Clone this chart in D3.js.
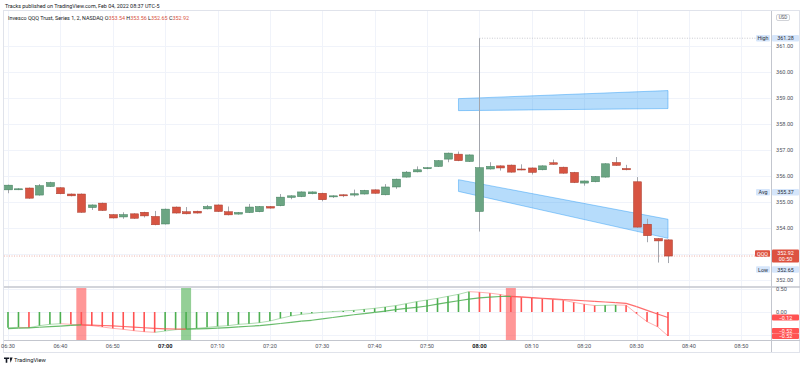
<!DOCTYPE html>
<html>
<head>
<meta charset="utf-8">
<script src="https://cdn.jsdelivr.net/npm/d3@7"></script>
<style>
  body { margin: 0; background: #fff; }
  svg { display: block; font-family: Roboto, "Liberation Sans", sans-serif; }
</style>
</head>
<body>
<div id="chart"></div>
<script>
// 2-minute bars, QQQ
var times = ["06:30","06:32","06:34","06:36","06:38","06:40","06:42","06:44","06:46","06:48",
  "06:50","06:52","06:54","06:56","06:58","07:00","07:02","07:04","07:06","07:08",
  "07:10","07:12","07:14","07:16","07:18","07:20","07:22","07:24","07:26","07:28",
  "07:30","07:32","07:34","07:36","07:38","07:40","07:42","07:44","07:46","07:48",
  "07:50","07:52","07:54","07:56","07:58","08:00","08:02","08:04","08:06","08:08",
  "08:10","08:12","08:14","08:16","08:18","08:20","08:22","08:24","08:26","08:28",
  "08:30","08:32","08:34","08:36"];

var open = [355.46,355.47,355.53,355.26,355.59,355.54,355.30,355.30,354.78,354.95,
  354.51,354.42,354.54,354.60,354.44,354.15,354.80,354.62,354.64,354.73,
  354.88,354.62,354.53,354.59,354.62,354.82,354.85,355.17,355.20,355.31,
  355.33,355.19,355.27,355.26,355.30,355.46,355.27,355.57,355.95,356.15,
  356.27,356.36,356.64,356.83,356.55,354.63,356.26,356.38,356.41,356.26,
  356.30,356.23,356.50,356.33,356.13,355.72,355.77,355.95,356.51,356.28,
  355.77,354.14,353.59,353.54];
var high = [355.66,355.52,355.55,355.68,355.77,355.56,355.32,355.32,354.90,354.97,
  354.53,354.60,354.56,354.62,354.65,354.74,354.82,354.80,354.66,354.88,
  354.90,354.82,354.61,354.92,354.84,354.84,355.30,355.25,355.40,355.40,
  355.35,355.25,355.29,355.47,355.46,355.48,355.68,355.89,356.18,356.36,
  356.33,356.60,356.89,356.93,356.82,361.28,356.52,356.40,356.43,356.44,
  356.32,356.40,356.62,356.35,356.15,355.82,355.99,356.48,356.72,356.42,
  355.95,354.35,353.61,353.56];
var low = [355.33,355.45,355.12,355.24,355.57,355.29,355.21,354.58,354.69,354.65,
  354.36,354.35,354.35,354.40,354.10,354.13,354.55,354.52,354.55,354.71,
  354.61,354.48,354.51,354.57,354.60,354.74,354.83,355.10,355.18,355.29,
  355.02,355.15,355.18,355.20,355.28,355.31,355.25,355.50,355.93,356.13,
  356.25,356.34,356.52,356.56,356.53,353.86,356.24,356.20,356.12,356.21,
  356.05,356.21,356.42,356.08,355.72,355.62,355.75,355.93,356.38,356.21,
  354.01,353.45,352.67,352.65];
var close = [355.64,355.50,355.14,355.62,355.74,355.31,355.23,354.60,354.88,354.67,
  354.38,354.51,354.37,354.46,354.12,354.72,354.57,354.54,354.57,354.82,
  354.63,354.50,354.59,354.80,354.82,354.76,355.18,355.23,355.38,355.38,
  355.08,355.23,355.23,355.31,355.44,355.33,355.57,355.87,356.14,356.23,
  356.31,356.58,356.87,356.58,356.80,356.31,356.36,356.30,356.14,356.23,
  356.13,356.38,356.44,356.10,355.74,355.80,355.97,356.46,356.40,356.23,
  354.03,353.70,353.50,352.92];

// oscillator pane: fast line (histogram follows it) and slow line
var fast = [-0.341,-0.334,-0.341,-0.297,-0.268,-0.254,-0.268,-0.283,-0.297,-0.326,
  -0.355,-0.377,-0.406,-0.428,-0.442,-0.413,-0.384,-0.370,-0.355,-0.334,
  -0.312,-0.297,-0.268,-0.254,-0.232,-0.196,-0.138,-0.087,-0.051,-0.029,
  -0.007,0.007,0.022,0.036,0.058,0.080,0.109,0.138,0.181,0.225,
  0.261,0.297,0.341,0.384,0.442,0.430,0.410,0.380,0.335,0.320,
  0.305,0.290,0.275,0.255,0.210,0.170,0.140,0.145,0.152,0.148,
  -0.036,-0.210,-0.320,-0.520];
var slow = [-0.360,-0.352,-0.344,-0.332,-0.318,-0.305,-0.292,-0.282,-0.285,-0.293,
  -0.303,-0.315,-0.328,-0.342,-0.356,-0.365,-0.370,-0.372,-0.368,-0.360,
  -0.350,-0.338,-0.325,-0.310,-0.295,-0.275,-0.250,-0.225,-0.200,-0.180,
  -0.150,-0.120,-0.090,-0.060,-0.035,-0.010,0.020,0.050,0.080,0.100,
  0.130,0.170,0.210,0.245,0.280,0.305,0.325,0.337,0.341,0.327,
  0.313,0.299,0.285,0.272,0.258,0.244,0.230,0.217,0.203,0.188,
  0.116,0.036,-0.043,-0.120];

// cross signals
var signalTimes = ["06:44","07:04","08:06"];
var signalSide = ["sell","buy","sell"];

// two drawn channels (start / end)
var channelTimes = ["07:56","08:36"];
var upperTop = [358.96,359.27], upperBottom = [358.50,358.58];
var lowerTop = [355.85,354.33], lowerBottom = [355.40,353.60];

var priceTicks = [352,353,354,355,356,357,358,359,360,361];
var oscGrid = [0.5,0,-0.5];
var oscLabels = [0.5,0];
var timeTicks = ["06:30","06:40","06:50","07:00","07:10","07:20","07:30","07:40",
  "07:50","08:00","08:10","08:20","08:30","08:40","08:50"];

var statHigh = 361.28, statAvg = 355.37, statLow = 352.65, lastClose = 352.92;

var green = "#6ba583", red = "#d75442";
var oscUp = "#4caf50", oscDn = "#ff5252";
var axisX = 771.5, paneSplit = 287, timeAxisY = 340.5;

var parseT = d3.utcParse("%H:%M");
var data = times.map(function(t, i){
  return {t: parseT(t), o: open[i], h: high[i], l: low[i], c: close[i], f: fast[i], s: slow[i]};
});

var x = d3.scaleUtc().domain([parseT("06:30"), parseT("08:36")]).range([8, 668]);
var y = d3.scaleLinear().domain([352, 361]).range([280, 45.5]);
var yo = d3.scaleLinear().domain([-0.5, 0.5]).range([335, 289]);
var fmt = d3.format(".2f");

var svg = d3.select("#chart").append("svg").attr("width", 800).attr("height", 368);

// header
svg.append("text").attr("x", 5).attr("y", 7.5).style("font-size", "5.4px").style("fill", "#131722")
  .text("Tracks published on TradingView.com, Feb 04, 2022 08:37 UTC-5");

// frame
svg.append("rect").attr("x", 3.5).attr("y", 10.5).attr("width", 796).attr("height", 342)
  .style("fill", "none").style("stroke", "#e0e3eb");

// grid
svg.selectAll(".vgrid").data(timeTicks).enter().append("line")
  .attr("x1", function(d){ return Math.round(x(parseT(d))) + 0.5; })
  .attr("x2", function(d){ return Math.round(x(parseT(d))) + 0.5; })
  .attr("y1", 11).attr("y2", timeAxisY)
  .style("stroke", "#f0f3fa");
svg.selectAll(".hgrid").data(priceTicks).enter().append("line")
  .attr("x1", 4).attr("x2", axisX)
  .attr("y1", function(d){ return Math.round(y(d)) + 0.5; })
  .attr("y2", function(d){ return Math.round(y(d)) + 0.5; })
  .style("stroke", "#f0f3fa");
svg.selectAll(".ogrid").data(oscGrid).enter().append("line")
  .attr("x1", 4).attr("x2", axisX)
  .attr("y1", function(d){ return Math.round(yo(d)) + 0.5; })
  .attr("y2", function(d){ return Math.round(yo(d)) + 0.5; })
  .style("stroke", "#f0f3fa");

// legend
var leg = svg.append("text").attr("x", 8).attr("y", 19.5).style("font-size", "5.4px").style("fill", "#131722");
leg.append("tspan").text("Invesco QQQ Trust, Series 1, 2, NASDAQ ");
[["O", open[63]], ["H", high[63]], ["L", low[63]], ["C", close[63]]].forEach(function(p){
  leg.append("tspan").text(" " + p[0]).style("fill", "#131722");
  leg.append("tspan").text(fmt(p[1])).style("fill", red);
});

// channels
function channel(top, bot){
  var t0 = x(parseT(channelTimes[0])), t1 = x(parseT(channelTimes[1]));
  var pts = [[t0, y(top[0])], [t1, y(top[1])], [t1, y(bot[1])], [t0, y(bot[0])]];
  svg.append("path").attr("d", "M" + pts.join("L") + "Z")
    .style("fill", "rgba(33,150,243,0.33)").style("stroke", "rgba(33,150,243,0.55)").style("stroke-width", 0.8);
}
channel(upperTop, upperBottom);
channel(lowerTop, lowerBottom);

// price line and stat lines
svg.append("line").attr("x1", 4).attr("x2", axisX).attr("y1", y(lastClose)).attr("y2", y(lastClose))
  .style("stroke", red).style("stroke-opacity", 0.45).style("stroke-dasharray", "1,1.5");
svg.append("line").attr("x1", x(parseT("08:00"))).attr("x2", 756).attr("y1", y(statHigh)).attr("y2", y(statHigh))
  .style("stroke", "#c8cad0").style("stroke-dasharray", "1,1.5");

// candles
var candle = svg.selectAll(".candle").data(data).enter().append("g");
candle.append("line")
  .attr("x1", function(d){ return Math.round(x(d.t)) + 0.5; })
  .attr("x2", function(d){ return Math.round(x(d.t)) + 0.5; })
  .attr("y1", function(d){ return y(d.h); })
  .attr("y2", function(d){ return y(d.l); })
  .style("stroke", "#a3a6ad").style("stroke-width", 1);
candle.append("rect")
  .attr("x", function(d){ return Math.round(x(d.t)) - 3.5; })
  .attr("width", 8)
  .attr("y", function(d){ return y(Math.max(d.o, d.c)); })
  .attr("height", function(d){ return Math.max(1, Math.abs(y(d.o) - y(d.c))); })
  .style("fill", function(d){ return d.c >= d.o ? green : red; })
  .style("stroke", function(d){ return d.c >= d.o ? "#3f7d5a" : "#a83a2b"; })
  .style("stroke-width", 0.5);

// oscillator: signal bands
svg.selectAll(".band").data(signalTimes).enter().append("rect")
  .attr("x", function(d){ return x(parseT(d)) - 5; })
  .attr("width", 10)
  .attr("y", paneSplit + 1).attr("height", timeAxisY - paneSplit - 1.5)
  .style("fill", function(d, i){ return signalSide[i] == "buy" ? "rgba(76,175,80,0.6)" : "rgba(255,82,82,0.6)"; });

// histogram
svg.selectAll(".hist").data(data).enter().append("line")
  .attr("x1", function(d){ return x(d.t); })
  .attr("x2", function(d){ return x(d.t); })
  .attr("y1", yo(0))
  .attr("y2", function(d){ return yo(d.f); })
  .style("stroke", function(d, i){ return (i == 0 || d.f >= data[i-1].f) ? oscUp : oscDn; })
  .style("stroke-width", 1.6);

// lines, coloured by slope
function segLine(key, width, opacity){
  var segs = d3.pairs(data);
  svg.selectAll(".seg-" + key).data(segs).enter().append("line")
    .attr("x1", function(p){ return x(p[0].t); })
    .attr("x2", function(p){ return x(p[1].t); })
    .attr("y1", function(p){ return yo(p[0][key]); })
    .attr("y2", function(p){ return yo(p[1][key]); })
    .style("stroke", function(p){ return p[1][key] >= p[0][key] ? oscUp : oscDn; })
    .style("stroke-opacity", opacity)
    .style("stroke-width", width);
}
segLine("f", 1, 0.45);
segLine("s", 1.2, 0.85);

// pane separators
svg.append("line").attr("x1", 4).attr("x2", 800).attr("y1", paneSplit).attr("y2", paneSplit)
  .style("stroke", "#c3c6ce").style("stroke-width", 1.6);
svg.append("line").attr("x1", 4).attr("x2", 800).attr("y1", timeAxisY).attr("y2", timeAxisY)
  .style("stroke", "#c3c6ce");
svg.append("line").attr("x1", axisX).attr("x2", axisX).attr("y1", 11).attr("y2", 352)
  .style("stroke", "#c3c6ce");

// price axis labels
svg.selectAll(".plab").data(priceTicks).enter().append("text")
  .attr("x", 776).attr("y", function(d){ return y(d) + 2; })
  .style("font-size", "5.6px").style("fill", "#50535e")
  .text(function(d){ return fmt(d); });
svg.selectAll(".olab").data(oscLabels).enter().append("text")
  .attr("x", 776).attr("y", function(d){ return yo(d) + 2; })
  .style("font-size", "5.6px").style("fill", "#50535e")
  .text(function(d){ return fmt(d); });

// USD badge
svg.append("rect").attr("x", 776.5).attr("y", 14.5).attr("width", 13).attr("height", 6).attr("rx", 1.5)
  .style("fill", "#fff").style("stroke", "#b2b5be").style("stroke-width", 0.6);
svg.append("text").attr("x", 783).attr("y", 19.2).attr("text-anchor", "middle")
  .style("font-size", "4.6px").style("fill", "#50535e").text("USD");

function tag(x0, w, yc, h, txt, bg, fg){
  svg.append("rect").attr("x", x0).attr("y", yc - h / 2).attr("width", w).attr("height", h)
    .attr("rx", 1).style("fill", bg);
  svg.append("text").attr("x", x0 + w / 2).attr("y", yc + 2).attr("text-anchor", "middle")
    .style("font-size", "5.4px").style("fill", fg).text(txt);
}
var statBg = "#d6e6fb", statFg = "#2a2e39";
tag(756, 14, y(statHigh), 6.5, "High", statBg, statFg);
tag(772, 27, y(statHigh), 6.5, fmt(statHigh), statBg, statFg);
tag(756, 14, y(statAvg), 6.5, "Avg", statBg, statFg);
tag(772, 27, y(statAvg), 6.5, fmt(statAvg), statBg, statFg);
tag(756, 14, 269.5, 6.5, "Low", statBg, statFg);
tag(772, 27, 269.5, 6.5, fmt(statLow), statBg, statFg);

// last price block
svg.append("rect").attr("x", 772).attr("y", 249.5).attr("width", 27).attr("height", 13).attr("rx", 1).style("fill", "#dd5240");
svg.append("text").attr("x", 785.5).attr("y", 255).attr("text-anchor", "middle").style("font-size", "5.4px").style("fill", "#fff").text(fmt(lastClose));
svg.append("text").attr("x", 785.5).attr("y", 261).attr("text-anchor", "middle").style("font-size", "5.4px").style("fill", "#fff").text("00:50");
tag(755, 15, 253.5, 6.5, "QQQ", "#dd5240", "#fff");

// oscillator value tags
tag(772, 27, yo(slow[63]), 6, fmt(slow[63]), "#ff5252", "#fff");
tag(772, 27, 330.8, 5.6, fmt(fast[63]), "#ff5252", "#fff");
tag(772, 27, 336.2, 5.6, fmt(fast[63]), "#ff5252", "#fff");

// time axis
svg.selectAll(".tlab").data(timeTicks).enter().append("text")
  .attr("x", function(d){ return x(parseT(d)); })
  .attr("y", 348)
  .attr("text-anchor", "middle")
  .style("font-size", "5.6px")
  .style("font-weight", function(d){ return d.slice(3) == "00" ? "bold" : "normal"; })
  .style("fill", function(d){ return d.slice(3) == "00" ? "#131722" : "#50535e"; })
  .text(function(d){ return d; });

// logo
svg.append("path").attr("d", "M4,357.5h5v1.6h-1.7v3.7h-1.6v-3.7h-1.7z M9.6,357.5h3l-2,5.3z")
  .style("fill", "#131722");
svg.append("text").attr("x", 14).attr("y", 362).style("font-size", "5.8px").style("fill", "#131722").text("TradingView");
</script>
</body>
</html>
